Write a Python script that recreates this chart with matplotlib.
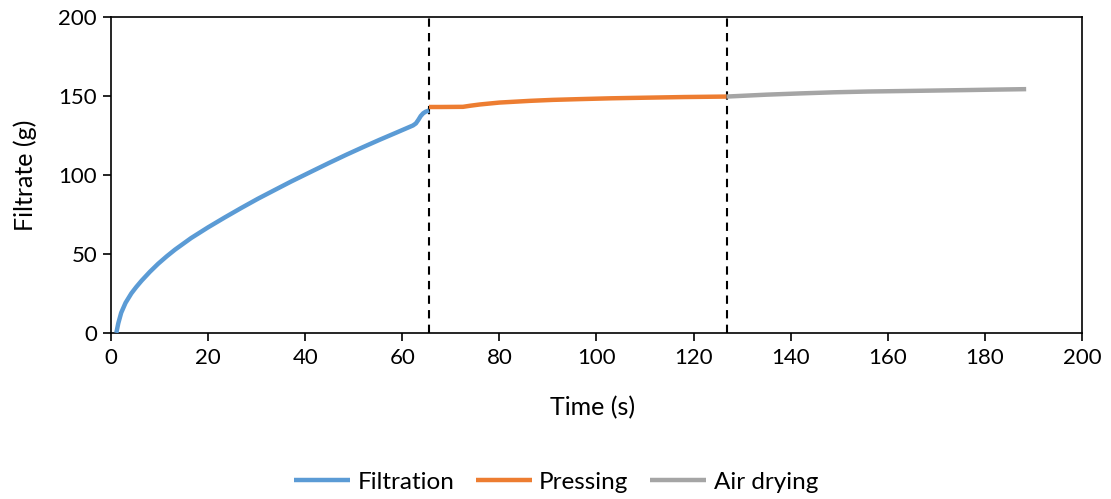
import matplotlib
matplotlib.use("Agg")
import matplotlib.pyplot as plt

plt.rcParams['font.family'] = ['Lato', 'DejaVu Sans']

# Filtrate mass over time for each stage of the cycle
filtration_t = [1.1, 1.5, 2.1, 3.0, 4.2, 5.2, 6.3, 8.0, 9.7, 11.5, 13.2, 16.5, 20.0, 23.4,
                26.8, 30.2, 33.7, 37.1, 41.6, 45.0, 48.5, 52.0, 55.3, 58.8,
                62.2, 62.8, 63.3, 63.8, 64.3, 64.8, 65.5]
filtration_g = [0.0, 6.0, 12.7, 19.0, 25.0, 29.0, 33.0, 38.6, 43.7, 48.5, 52.7, 60.0, 66.8, 73.0,
                79.0, 84.8, 90.4, 95.8, 102.6, 107.7, 112.8, 117.7, 122.2, 126.8,
                131.3, 132.6, 134.8, 137.3, 139.0, 140.0, 140.8]

pressing_t = [65.5, 68.0, 72.5, 74.0, 76.0, 80.0, 86.4, 91.0, 96.7, 103.0, 110.4, 118.0, 126.8]
pressing_g = [143.0, 143.0, 143.1, 143.8, 144.6, 145.8, 146.9, 147.5, 148.0, 148.5, 148.9, 149.3, 149.6]

drying_t = [126.8, 135.0, 142.0, 148.9, 156.0, 163.0, 169.5, 176.0, 182.0, 188.5]
drying_g = [149.6, 150.8, 151.6, 152.3, 152.8, 153.1, 153.4, 153.7, 154.0, 154.3]

stage_boundaries = [65.6, 126.8]

series = [
    ("Filtration", filtration_t, filtration_g, "#5B9BD5"),
    ("Pressing", pressing_t, pressing_g, "#ED7D31"),
    ("Air drying", drying_t, drying_g, "#A5A5A5"),
]

fig = plt.figure(figsize=(11.11, 4.99), dpi=100)
ax = fig.add_axes([0.0999, 0.333, 0.874, 0.633])

for xb in stage_boundaries:
    ax.axvline(xb, color="black", linestyle=(0, (4, 3)), linewidth=1.5, zorder=1)

for name, t, g, c in series:
    ax.plot(t, g, color=c, linewidth=3.2, label=name, solid_capstyle="butt",
            solid_joinstyle="round", zorder=3)

ax.set_xlim(0, 200)
ax.set_ylim(0, 200)
ax.set_xticks(range(0, 201, 20))
ax.set_yticks(range(0, 201, 50))
ax.tick_params(direction="out", length=6, width=1.2, labelsize=16, colors="black", pad=4)
ax.tick_params(axis="x", pad=5)
for sp in ax.spines.values():
    sp.set_color("black")
    sp.set_linewidth(1.2)

ax.set_xlabel("Time (s)", fontsize=18)
ax.set_ylabel("Filtrate (g)", fontsize=18)
ax.xaxis.set_label_coords(0.496, -0.237)
ax.xaxis.label.set_va("center")
ax.yaxis.set_label_coords(-0.088, 0.5)
ax.yaxis.label.set_va("center")

fig.legend(loc="center", bbox_to_anchor=(0.5005, 0.034), ncol=3, frameon=False,
           fontsize=17.5, handlelength=2.3, handletextpad=0.3, columnspacing=0.9)

fig.savefig("out.png", dpi=100, facecolor="white")
